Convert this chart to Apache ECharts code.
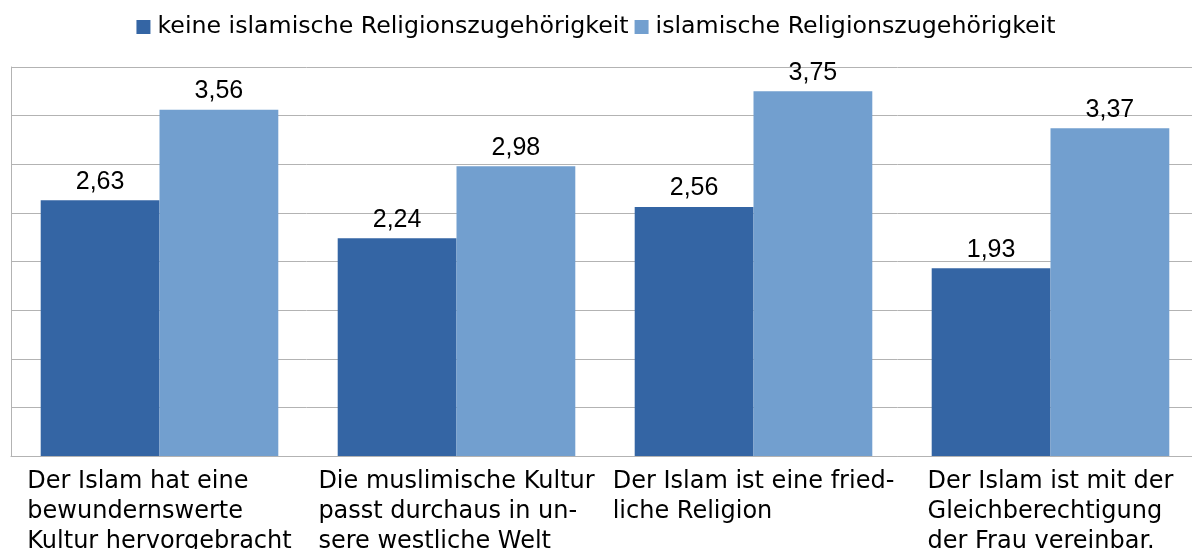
<!DOCTYPE html>
<html>
<head>
<meta charset="utf-8">
<script src="https://cdn.jsdelivr.net/npm/echarts@6/dist/echarts.min.js"></script>
<style>
  html, body { margin: 0; padding: 0; background: #fff; }
  #chart { width: 1192px; height: 549px; }
</style>
</head>
<body>
<div id="chart"></div>
<script>
// Kategorien (Zeilen der Achsenbeschriftung)
const categories = [
  ['Der Islam hat eine', 'bewundernswerte', 'Kultur hervorgebracht'],
  ['Die muslimische Kultur', 'passt durchaus in un-', 'sere westliche Welt'],
  ['Der Islam ist eine fried-', 'liche Religion'],
  ['Der Islam ist mit der', 'Gleichberechtigung', 'der Frau vereinbar.']
]
const seriesNames = ['keine islamische Religionszugehörigkeit', 'islamische Religionszugehörigkeit']
const keineIslam = [2.63, 2.24, 2.56, 1.93]
const islam = [3.56, 2.98, 3.75, 3.37]
const colors = ['#3465a4', '#729fcf']

const chart = echarts.init(document.getElementById('chart'))

const valueLabel = {
  show: true,
  position: 'top',
  distance: 6,
  fontFamily: 'Liberation Sans',
  fontSize: 25,
  color: '#000',
  formatter: p => p.value.toFixed(2).replace('.', ',')
}

const option = {
  animation: false,
  legend: {
    top: 10,
    left: 'center',
    icon: 'rect',
    itemWidth: 14,
    itemHeight: 14,
    itemGap: 6,
    textStyle: { fontFamily: 'DejaVu Sans', fontSize: 23.7, color: '#000', padding: [0, 0, 0, 2] },
    data: seriesNames
  },
  grid: { left: 11, width: 1188, top: 67, bottom: 93, outerBoundsMode: 'none' },
  xAxis: {
    type: 'category',
    data: categories.map(c => c.join('\n')),
    axisLine: { lineStyle: { color: '#b3b3b3' } },
    axisTick: { show: false },
    axisLabel: {
      margin: 11,
      interval: 0,
      formatter: v => v.split('\n').map(l => '{a|' + l + '}').join('\n'),
      rich: {
        a: { fontFamily: 'DejaVu Sans', fontSize: 24, lineHeight: 30, color: '#000', align: 'left' }
      }
    }
  },
  yAxis: {
    type: 'value',
    min: 0,
    max: 4,
    interval: 0.5,
    axisLabel: { show: false },
    axisTick: { show: false },
    axisLine: { show: true, lineStyle: { color: '#b3b3b3' } },
    splitLine: { lineStyle: { color: '#b3b3b3' } }
  },
  series: [
    {
      name: seriesNames[0],
      type: 'bar',
      data: keineIslam,
      barGap: '0%',
      barCategoryGap: '20%',
      itemStyle: { color: colors[0] },
      label: valueLabel
    },
    {
      name: seriesNames[1],
      type: 'bar',
      data: islam,
      barGap: '0%',
      barCategoryGap: '20%',
      itemStyle: { color: colors[1] },
      label: valueLabel
    }
  ]
}

chart.setOption(option)
</script>
</body>
</html>
